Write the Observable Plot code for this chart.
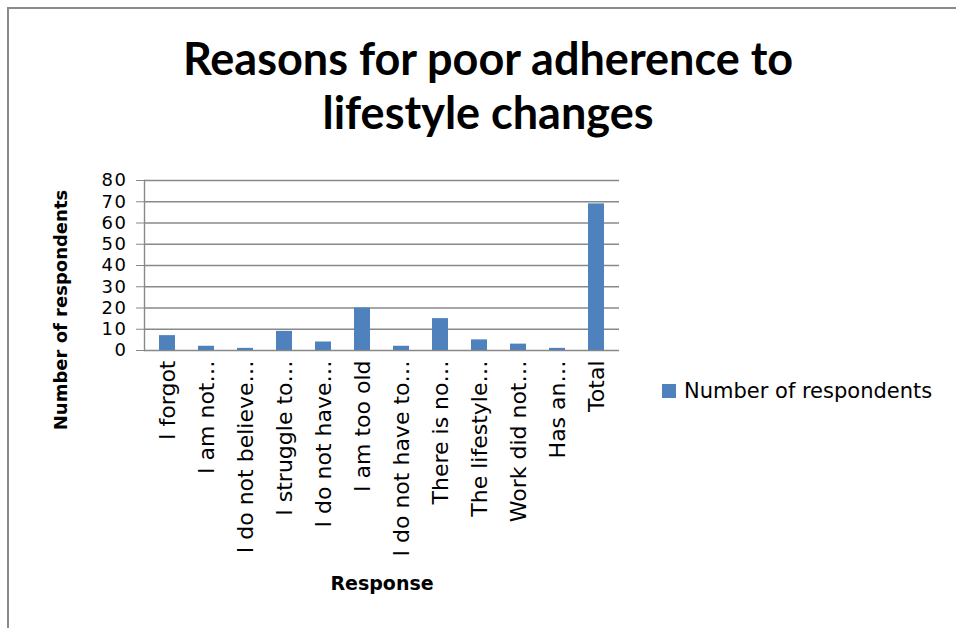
<!DOCTYPE html>
<html>
<head>
<meta charset="utf-8">
<script src="https://cdn.jsdelivr.net/npm/d3@7"></script>
<script src="https://cdn.jsdelivr.net/npm/@observablehq/plot@0.6"></script>
<style>
  body { margin: 0; background: #fff; }
  #wrap { position: relative; width: 956px; height: 628px; overflow: hidden; background: #fff; font-family: "DejaVu Sans", sans-serif; color: #000; }
  #frame { position: absolute; left: 7px; top: 7px; width: 1200px; height: 900px; border-top: 2px solid #8a8a8a; border-left: 2px solid #8a8a8a; box-sizing: border-box; }
  #title { position: absolute; left: 0; top: 31px; width: 976px; text-align: center; font-family: Lato, sans-serif; font-weight: bold; font-size: 45px; line-height: 54px; }
  #chart { position: absolute; left: 0; top: 160px; }
  #ylabel { position: absolute; left: 60px; top: 310px; transform: translate(-50%, -50%) rotate(-90deg); white-space: nowrap; font-weight: bold; font-size: 18px; }
  #xlabel { position: absolute; left: 382px; top: 583px; transform: translate(-50%, -50%); white-space: nowrap; font-weight: bold; font-size: 19px; }
  #legend { position: absolute; left: 662px; top: 391px; transform: translate(0, -50%); display: flex; align-items: center; font-size: 21px; white-space: nowrap; }
  #legend .sw { width: 14px; height: 14px; background: #4F81BD; margin-right: 8px; }
  #chart svg g[aria-label="y-axis tick label"] text { letter-spacing: 1.5px; }
</style>
</head>
<body>
<div id="wrap">
  <div id="frame"></div>
  <div id="title"></div>
  <div id="chart"></div>
  <div id="ylabel"></div>
  <div id="xlabel"></div>
  <div id="legend"><div class="sw"></div><span id="legtext"></span></div>
</div>
<script>
const titleLines = ["Reasons for poor adherence to", "lifestyle changes"];
const categories = ["I forgot", "I am not…", "I do not believe…", "I struggle to…", "I do not have…", "I am too old", "I do not have to…", "There is no…", "The lifestyle…", "Work did not…", "Has an…", "Total"];
const values = [7, 2, 1, 9, 4, 20, 2, 15, 5, 3, 1, 69];
const yTicks = [0, 10, 20, 30, 40, 50, 60, 70, 80];
const seriesName = "Number of respondents";
const xTitle = "Response";
const yTitle = "Number of respondents";
const barColor = "#4F81BD";

const data = categories.map((c, i) => ({response: c, count: values[i]}));

document.getElementById("title").innerHTML = titleLines.join("<br>");
document.getElementById("ylabel").textContent = yTitle;
document.getElementById("xlabel").textContent = xTitle;
document.getElementById("legtext").textContent = seriesName;

const chart = Plot.plot({
  width: 956,
  height: 440,
  marginLeft: 144,
  marginRight: 337,
  marginTop: 20,
  marginBottom: 250,
  style: {fontFamily: "DejaVu Sans", fontSize: "21px", color: "#000", background: "transparent", overflow: "visible"},
  x: {domain: categories, paddingInner: 0.6, paddingOuter: 0.3, label: null},
  y: {domain: [0, 80], label: null},
  marks: [
    Plot.ruleY(yTicks, {stroke: "#888", strokeWidth: 1.4}),
    Plot.barY(data, {x: "response", y: "count", fill: barColor}),
    Plot.frame({anchor: "left", stroke: "#888", strokeWidth: 1.4}),
    Plot.axisY({ticks: yTicks, tickSize: 8, tickPadding: 9, stroke: "#888", fontSize: 18, label: null}),
    Plot.axisX({tickRotate: -90, tickSize: 0, tickPadding: 10, fontSize: 22, label: null})
  ]
});
document.getElementById("chart").appendChild(chart);
</script>
</body>
</html>
